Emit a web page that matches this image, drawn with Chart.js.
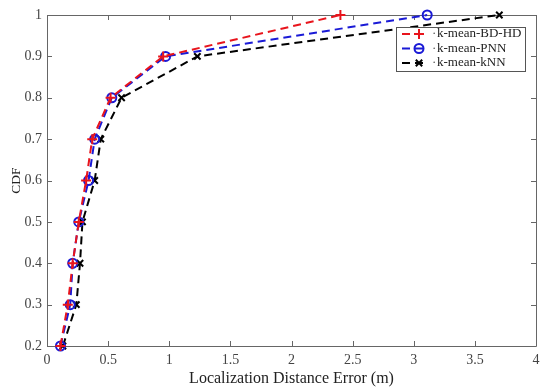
<!DOCTYPE html>
<html>
<head>
<meta charset="utf-8">
<script src="https://cdn.jsdelivr.net/npm/chart.js@4.4.1/dist/chart.umd.min.js"></script>
<style>
html,body{margin:0;padding:0;background:#fff;}
#wrap{width:550px;height:391px;position:relative;}
</style>
</head>
<body>
<div id="wrap"><canvas id="c" width="550" height="391"></canvas></div>
<script>
const cdfLevels = [0.2, 0.3, 0.4, 0.5, 0.6, 0.7, 0.8, 0.9, 1.0];
const errBDHD = [0.11, 0.17, 0.21, 0.26, 0.32, 0.37, 0.52, 0.95, 2.40];
const errPNN  = [0.11, 0.19, 0.21, 0.26, 0.34, 0.39, 0.53, 0.97, 3.11];
const errKNN  = [0.13, 0.24, 0.27, 0.29, 0.39, 0.44, 0.61, 1.23, 3.70];
const seriesNames = ['k-mean-BD-HD', 'k-mean-PNN', 'k-mean-kNN'];
const xTicks = [0, 0.5, 1, 1.5, 2, 2.5, 3, 3.5, 4];
const yTicks = [0.2, 0.3, 0.4, 0.5, 0.6, 0.7, 0.8, 0.9, 1];

const FONT = '"Liberation Serif", "DejaVu Serif", serif';
const colors = ['#e8141c', '#1a1ad6', '#000000'];
const styles = ['cross', 'circle', 'crossRot'];
const radii = [5, 4.5, 4.5];
const allErr = [errBDHD, errPNN, errKNN];

const datasets = allErr.map((arr, i) => ({
  label: seriesNames[i],
  data: arr.map((v, k) => ({x: v, y: cdfLevels[k]})),
  borderColor: colors[i],
  backgroundColor: 'rgba(0,0,0,0)',
  borderWidth: 2,
  borderDash: [8, 5],
  pointStyle: styles[i],
  pointRadius: radii[i],
  pointBorderWidth: 2,
  pointBorderColor: colors[i],
  pointBackgroundColor: 'rgba(0,0,0,0)',
  clip: false,
  tension: 0
}));

const frameTicks = {
  id: 'frameTicks',
  beforeDatasetsDraw(chart) {
    const ctx = chart.ctx, a = chart.chartArea;
    const xs = chart.scales.x, ys = chart.scales.y;
    ctx.save();
    ctx.strokeStyle = '#666';
    ctx.lineWidth = 1;
    ctx.beginPath();
    ctx.rect(Math.round(a.left) + 0.5, Math.round(a.top) + 0.5, Math.round(a.right - a.left), Math.round(a.bottom - a.top));
    ctx.stroke();
    const L = 5;
    ctx.beginPath();
    xTicks.forEach(v => {
      const px = Math.round(xs.getPixelForValue(v)) + 0.5;
      ctx.moveTo(px, a.bottom); ctx.lineTo(px, a.bottom - L);
      ctx.moveTo(px, a.top); ctx.lineTo(px, a.top + L);
    });
    yTicks.forEach(v => {
      const py = Math.round(ys.getPixelForValue(v)) + 0.5;
      ctx.moveTo(a.left, py); ctx.lineTo(a.left + L, py);
      ctx.moveTo(a.right, py); ctx.lineTo(a.right - L, py);
    });
    ctx.stroke();
    ctx.restore();
  },
  afterDraw(chart) {
    const ctx = chart.ctx;
    ctx.save();
    const bx = 396, by = 27, bw = 129, bh = 44;
    ctx.fillStyle = '#fff';
    ctx.fillRect(bx, by, bw, bh);
    ctx.strokeStyle = '#555';
    ctx.lineWidth = 1;
    ctx.strokeRect(bx + 0.5, by + 0.5, bw, bh);
    ctx.font = '13px ' + FONT;
    ctx.textBaseline = 'middle';
    seriesNames.forEach((name, i) => {
      const yy = by + 7 + i * 14.5;
      ctx.strokeStyle = colors[i];
      ctx.lineWidth = 2;
      ctx.setLineDash([8, 5]);
      ctx.beginPath();
      ctx.moveTo(402, yy); ctx.lineTo(426, yy);
      ctx.stroke();
      ctx.setLineDash([]);
      ctx.fillStyle = 'rgba(0,0,0,0)';
      Chart.helpers.drawPoint(ctx, {pointStyle: styles[i], radius: radii[i], borderWidth: 2}, 419, yy);
      ctx.fillStyle = '#555';
      ctx.fillText('\u00b7', 432, yy);
      ctx.fillStyle = '#222';
      ctx.fillText(name, 437, yy);
    });
    ctx.restore();
  }
};

new Chart(document.getElementById('c'), {
  type: 'line',
  data: { datasets },
  plugins: [frameTicks],
  options: {
    responsive: false,
    animation: false,
    layout: { padding: { top: 15, right: 14, left: 0, bottom: 0 } },
    plugins: { legend: { display: false }, tooltip: { enabled: false } },
    scales: {
      x: {
        type: 'linear', min: 0, max: 4,
        afterFit(s) { s.height = 45; },
        afterBuildTicks(s) { s.ticks = xTicks.map(v => ({value: v})); },
        grid: { display: false, drawTicks: false },
        border: { display: false },
        ticks: { color: '#444', font: { family: FONT, size: 14 }, padding: 6, maxRotation: 0,
                  callback: v => String(v) },
        title: { display: true, text: 'Localization Distance Error (m)', color: '#222',
                 font: { family: FONT, size: 16 }, padding: { top: 0, bottom: 3 } }
      },
      y: {
        type: 'linear', min: 0.2, max: 1,
        afterFit(s) { s.width = 47; },
        afterBuildTicks(s) { s.ticks = yTicks.map(v => ({value: v})); },
        grid: { display: false, drawTicks: false },
        border: { display: false },
        ticks: { color: '#444', font: { family: FONT, size: 14 }, padding: 5,
                 callback: v => String(v) },
        title: { display: true, text: 'CDF', color: '#222',
                 font: { family: FONT, size: 13.5 }, padding: { top: 8, bottom: 0 } }
      }
    }
  }
});
</script>
</body>
</html>
